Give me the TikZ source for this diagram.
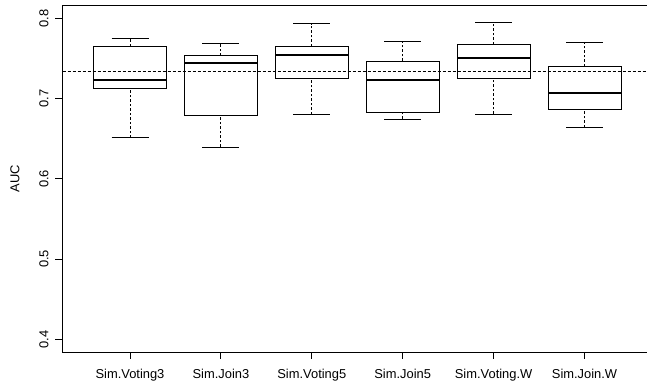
\documentclass[tikz,border=0pt]{standalone}
\usepackage{fontspec}
\setmainfont{Liberation Sans}
\tikzset{
  frame/.style={line width=0.9pt, black},
  tickst/.style={line width=0.9pt, black},
  refline/.style={line width=0.9pt, black, dash pattern=on 3pt off 2pt},
  whisk/.style={line width=0.9pt, black, dash pattern=on 2.5pt off 2pt},
  capst/.style={line width=0.9pt, black},
  boxst/.style={line width=0.9pt, black},
  med/.style={line width=2.2pt, black},
  lbl/.style={font=\fontsize{12.9pt}{14pt}\selectfont, inner sep=0pt, anchor=base},
}
\newcommand\myboxplot[6]{%
  \draw[whisk] (#1,#2) -- (#1,#3);
  \draw[whisk] (#1,#5) -- (#1,#6);
  \draw[capst] (#1-18.5,#2) -- (#1+18.5,#2);
  \draw[capst] (#1-18.5,#6) -- (#1+18.5,#6);
  \draw[boxst] (#1-36.5,#3) rectangle (#1+36.5,#5);
  \draw[med] (#1-36.5,#4) -- (#1+36.5,#4);
}
\begin{document}
\begin{tikzpicture}[x=1pt,y=-1pt]
\useasboundingbox (0,0) rectangle (647,382);
% frame (right side cropped)
\draw[frame] (648,5) -- (62.5,5) -- (62.5,352) -- (648,352);
% y ticks and labels
\foreach \v/\yy in {0.8/18.3,0.7/98.5,0.6/178.8,0.5/259.0,0.4/339.3}{
  \draw[tickst] (55,\yy) -- (62.5,\yy);
  \node[lbl, rotate=90] at (48.3,\yy) {\v};
}
\node[lbl, rotate=90] (ylab) at (19.3,178.5) {AUC};
% x ticks and labels
\foreach \cx/\name [count=\i] in {130/Sim.Voting3,220.9/Sim.Join3,311.8/Sim.Voting5,402.7/Sim.Join5,493.6/Sim.Voting.W,584.5/Sim.Join.W}{
  \draw[tickst] (\cx,352) -- (\cx,359);
  \node[lbl] (xl\i) at (\cx,378) {\name};
}
% boxes: x, lower whisker, q1, median, q3, upper whisker
\myboxplot{130}{137.7}{88.7}{80.3}{46.3}{38.7}
\myboxplot{220.9}{147}{115.7}{63}{55.7}{43}
\myboxplot{311.8}{114.3}{78.3}{55}{46.3}{23.7}
\myboxplot{402.7}{119}{112}{80.3}{61}{41.7}
\myboxplot{493.6}{114}{78.3}{58}{44.3}{22.7}
\myboxplot{584.5}{127.3}{109}{93.3}{66.3}{42.7}
% reference line
\draw[refline] (62.5,71.3) -- (648,71.3);
\end{tikzpicture}
\end{document}
